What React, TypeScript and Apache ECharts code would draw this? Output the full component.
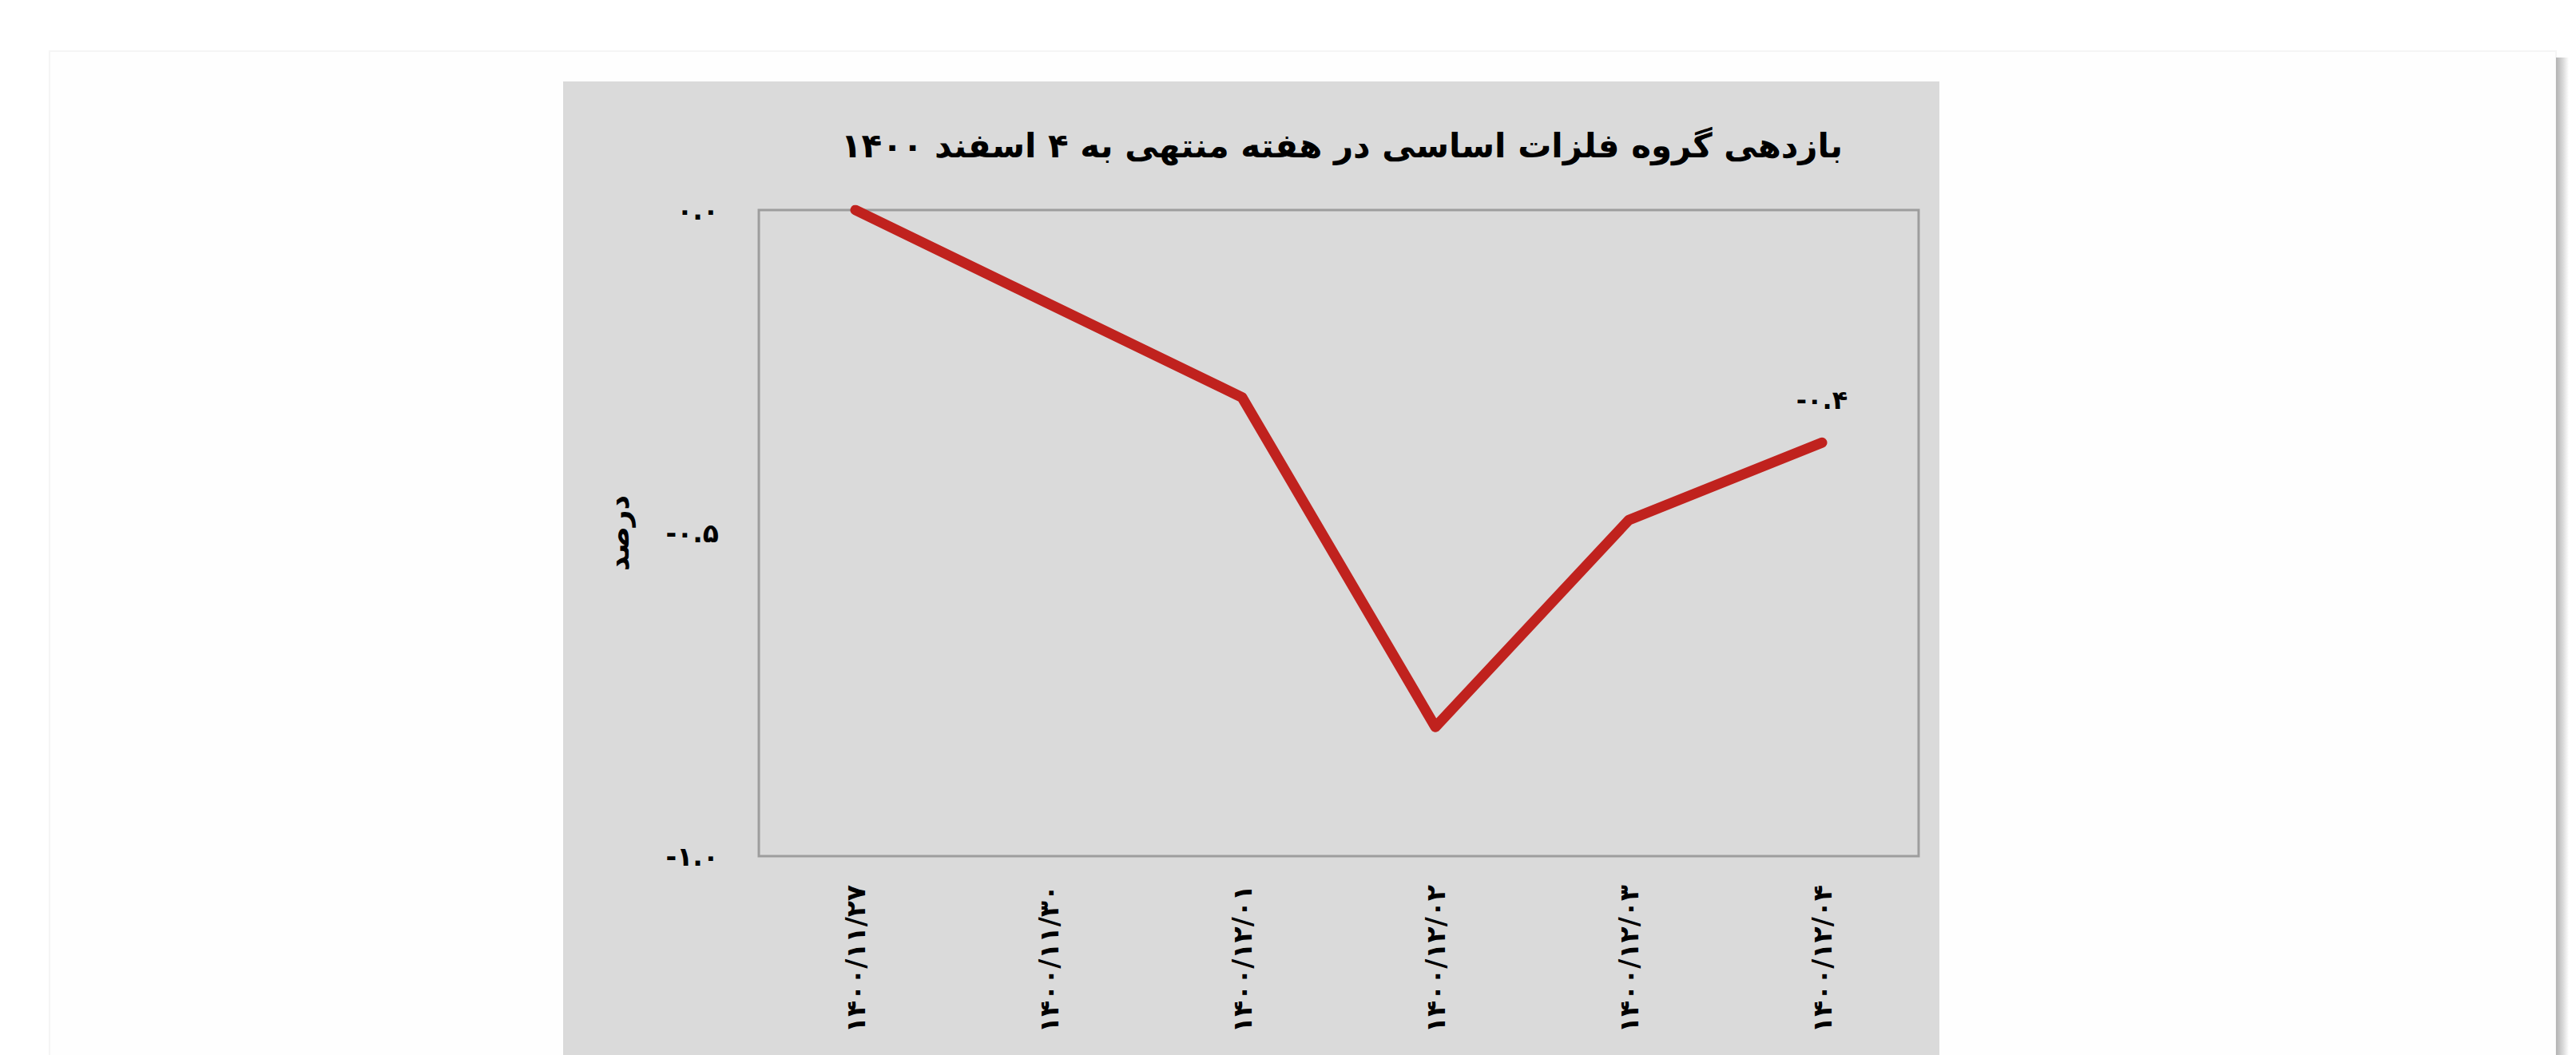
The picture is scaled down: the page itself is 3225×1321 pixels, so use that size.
import React, { useEffect, useRef } from "react";
import * as echarts from "echarts";

const titleText = "بازدهی گروه فلزات اساسی در هفته منتهی به ۴ اسفند ۱۴۰۰";
const yAxisName = "درصد";
const categories = [
  "۱۴۰۰/۱۱/۲۷",
  "۱۴۰۰/۱۱/۳۰",
  "۱۴۰۰/۱۲/۰۱",
  "۱۴۰۰/۱۲/۰۲",
  "۱۴۰۰/۱۲/۰۳",
  "۱۴۰۰/۱۲/۰۴",
];
const returns = [0.0, -0.145, -0.29, -0.8, -0.48, -0.36];
const labelledIndex = [5];
const yMin = -1;
const yMax = 0;
const yInterval = 0.5;

const toFa = (s: string) => s.replace(/[0-9]/g, (d) => "۰۱۲۳۴۵۶۷۸۹"[Number(d)]);
const fmt = (v: number) => toFa((Math.abs(v) < 1e-9 ? 0 : v).toFixed(1));

const FONT = "DejaVu Sans";

export default function App() {
  const ref = useRef<HTMLDivElement>(null);
  useEffect(() => {
    if (!ref.current) return;
    const chart = echarts.init(ref.current, null, { renderer: "svg" });
    const W = 3225;
    const H = 1321;
    chart.setOption({
      animation: false,
      backgroundColor: "#ffffff",
      graphic: [
        {
          type: "rect",
          z: -100,
          silent: true,
          shape: { x: 62, y: 64, width: 3138, height: H },
          style: { fill: "#fefefe", stroke: "#f5f5f5", lineWidth: 2 },
        },
        {
          type: "rect",
          z: -99,
          silent: true,
          shape: { x: 3200, y: 72, width: 16, height: H },
          style: {
            fill: new echarts.graphic.LinearGradient(0, 0, 1, 0, [
              { offset: 0, color: "#b2b2b2" },
              { offset: 0.5, color: "#d6d6d6" },
              { offset: 1, color: "#ffffff" },
            ]),
          },
        },
        {
          type: "rect",
          z: -98,
          silent: true,
          shape: { x: 705, y: 102, width: 1723, height: H },
          style: { fill: "#dadada" },
        },
        {
          type: "text",
          z: 10,
          silent: true,
          x: 1680,
          y: 182,
          style: {
            text: titleText,
            fontFamily: FONT,
            fontWeight: "bold",
            fontSize: 42,
            fill: "#000000",
            align: "center",
            verticalAlign: "middle",
          },
        },
      ],
      grid: {
        left: 950,
        right: W - 2402,
        top: 263,
        bottom: H - 1072,
        show: true,
        backgroundColor: "transparent",
        borderColor: "#9d9d9d",
        borderWidth: 3,
        containLabel: false,
      },
      xAxis: {
        type: "category",
        data: categories,
        boundaryGap: true,
        axisLine: { show: false },
        axisTick: { show: false },
        splitLine: { show: false },
        axisLabel: {
          rotate: 90,
          margin: 36,
          interval: 0,
          fontFamily: FONT,
          fontWeight: "bold",
          fontSize: 33,
          color: "#000000",
        },
      },
      yAxis: {
        type: "value",
        min: yMin,
        max: yMax,
        interval: yInterval,
        name: yAxisName,
        nameLocation: "middle",
        nameRotate: 90,
        nameGap: 158,
        nameTextStyle: {
          fontFamily: FONT,
          fontWeight: "bold",
          fontSize: 36,
          color: "#000000",
        },
        axisLine: { show: false },
        axisTick: { show: false },
        splitLine: { show: false },
        axisLabel: {
          margin: 50,
          fontFamily: FONT,
          fontWeight: "bold",
          fontSize: 33,
          color: "#000000",
          formatter: (v: number) => fmt(v),
        },
      },
      series: [
        {
          type: "line",
          data: returns.map((v, i) =>
            labelledIndex.includes(i)
              ? {
                  value: v,
                  label: {
                    show: true,
                    position: "top",
                    distance: 36,
                    fontFamily: FONT,
                    fontWeight: "bold",
                    fontSize: 32,
                    color: "#000000",
                    formatter: (p: any) => fmt(p.value),
                  },
                }
              : v
          ),
          showSymbol: true,
          symbol: "circle",
          symbolSize: 2,
          itemStyle: { color: "rgba(0,0,0,0)" },
          lineStyle: { color: "#c0221e", width: 13, cap: "round", join: "round" },
          emphasis: { disabled: true },
          z: 5,
        },
      ],
    });
    return () => chart.dispose();
  }, []);
  return (
    <div
      ref={ref}
      style={{ position: "fixed", left: 0, top: 0, width: "3225px", height: "1321px" }}
    />
  );
}
